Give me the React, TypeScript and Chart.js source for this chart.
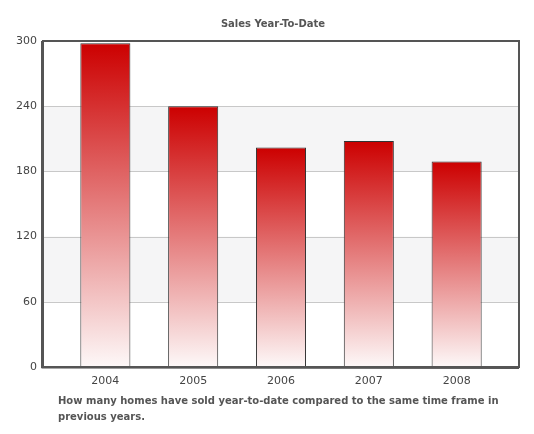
import React, { useEffect, useRef } from "react";
import { Chart, registerables } from "chart.js";

Chart.register(...registerables);

const years = ["2004", "2005", "2006", "2007", "2008"];
const sales = [298, 240, 202, 208, 189];
const yTicks = [0, 60, 120, 180, 240, 300];
const bands = [[60, 120], [180, 240]];
const titleText = "Sales Year-To-Date";
const captionLines = [
  "How many homes have sold year-to-date compared to the same time frame in",
  "previous years.",
];

const FONT = "'DejaVu Sans', Verdana, sans-serif";

export default function App() {
  const ref = useRef<HTMLCanvasElement | null>(null);

  useEffect(() => {
    if (!ref.current) return;
    const decor = {
      id: "decor",
      beforeDatasetsDraw(chart: any) {
        const { ctx, chartArea, scales } = chart;
        ctx.save();
        ctx.fillStyle = "#f5f5f6";
        for (const [a, b] of bands) {
          const y1 = scales.y.getPixelForValue(b);
          const y2 = scales.y.getPixelForValue(a);
          ctx.fillRect(chartArea.left, y1, chartArea.right - chartArea.left, y2 - y1);
        }
        ctx.strokeStyle = "#c8c8c8";
        ctx.lineWidth = 1;
        for (const v of yTicks) {
          const y = Math.round(scales.y.getPixelForValue(v)) + 0.5;
          ctx.beginPath();
          ctx.moveTo(chartArea.left, y);
          ctx.lineTo(chartArea.right, y);
          ctx.stroke();
        }
        ctx.restore();
      },
      afterDraw(chart: any) {
        const { ctx, chartArea } = chart;
        ctx.save();
        ctx.strokeStyle = "#555555";
        ctx.lineWidth = 2;
        ctx.strokeRect(chartArea.left, chartArea.top, chartArea.right - chartArea.left, chartArea.bottom - chartArea.top);
        ctx.beginPath();
        ctx.lineWidth = 1;
        ctx.moveTo(chartArea.left - 1.5, chartArea.top);
        ctx.lineTo(chartArea.left - 1.5, chartArea.bottom + 1);
        ctx.lineTo(chartArea.right, chartArea.bottom + 1.5);
        ctx.stroke();
        ctx.restore();
      },
    };

    const chart = new Chart(ref.current, {
      type: "bar",
      data: {
        labels: years,
        datasets: [
          {
            data: sales,
            backgroundColor: (c: any) => {
              const ch = c.chart;
              const area = ch.chartArea;
              if (!area || c.dataIndex === undefined) return "#cc0000";
              const top = ch.scales.y.getPixelForValue(sales[c.dataIndex]);
              const g = ch.ctx.createLinearGradient(0, top, 0, area.bottom);
              g.addColorStop(0, "#cc0000");
              g.addColorStop(1, "#fdf8f8");
              return g;
            },
            borderColor: "#333333",
            borderWidth: 1,
            borderSkipped: false,
            barPercentage: 0.57,
            categoryPercentage: 1,
          },
        ],
      },
      options: {
        animation: false,
        responsive: false,
        devicePixelRatio: 1,
        layout: { padding: { top: 41, right: 15, bottom: 47, left: 0 } },
        plugins: {
          legend: { display: false },
          title: { display: false },
          tooltip: { enabled: false },
        },
        scales: {
          x: {
            offset: true,
            grid: { display: false, drawTicks: false },
            border: { display: false },
            ticks: { color: "#444", font: { family: FONT, size: 11 }, padding: 8 },
            afterBuildTicks: (s: any) => {
              // widen the outer margins so the bars sit inward of the frame
              const extra = 0.21;
              s._startValue = -0.5 - extra;
              s._valueRange = years.length + 2 * extra;
            },
            afterFit: (s: any) => { s.height = 20; },
          },
          y: {
            min: 0,
            max: 300,
            afterBuildTicks: (s: any) => { s.ticks = yTicks.map((v) => ({ value: v })); },
            grid: { display: false, drawTicks: false },
            border: { display: false },
            ticks: { color: "#444", font: { family: FONT, size: 11 }, padding: 6 },
            afterFit: (s: any) => { s.width = 43; },
          },
        },
      },
      plugins: [decor],
    });
    return () => chart.destroy();
  }, []);

  return (
    <div style={{ position: "fixed", left: 0, top: 0, width: 534, height: 434, background: "#fff" }}>
      <canvas ref={ref} width={534} height={434} style={{ position: "absolute", left: 0, top: 0 }} />
      <div
        style={{
          position: "absolute",
          left: 173,
          top: 18,
          width: 200,
          textAlign: "center",
          font: `bold 10px ${FONT}`,
          color: "#555",
        }}
      >
        {titleText}
      </div>
      <div
        style={{
          position: "absolute",
          left: 58,
          top: 393,
          font: `bold 10px ${FONT}`,
          lineHeight: "16px",
          color: "#555",
          whiteSpace: "nowrap",
        }}
      >
        {captionLines.map((l, i) => (
          <div key={i}>{l}</div>
        ))}
      </div>
    </div>
  );
}
